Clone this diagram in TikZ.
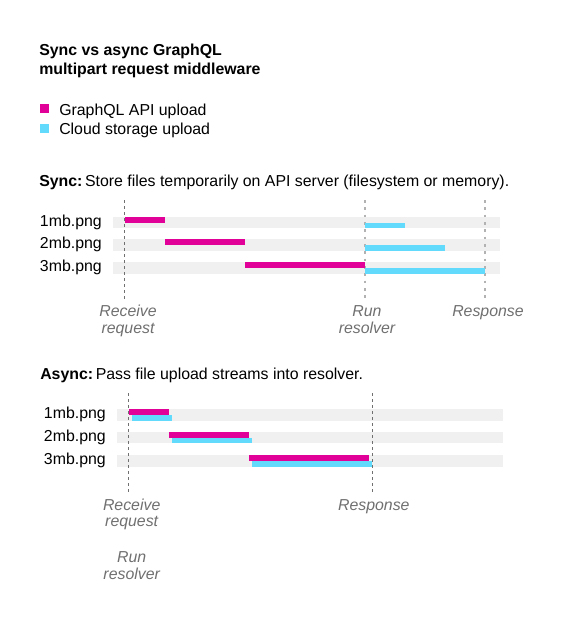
\documentclass[tikz,border=0pt]{standalone}
\usepackage{fontspec}
\setmainfont{Liberation Sans}
\definecolor{gqlpink}{HTML}{E10098}
\definecolor{cloudblue}{HTML}{61DAFB}
\definecolor{lanegray}{HTML}{F0F0F0}
\definecolor{evtgray}{HTML}{707070}

\begin{document}
\begin{tikzpicture}[x=0.75pt, y=-0.75pt,
    txt/.style={inner sep=0pt, font=\fontsize{11.9}{14}\selectfont},
    title/.style={txt, font=\fontsize{11.9}{14.2}\selectfont\bfseries, align=left, anchor=base west},
    head/.style={txt, anchor=base west},
    file/.style={txt, anchor=mid east},
    evt/.style={txt, font=\fontsize{11.9}{12.4}\selectfont\itshape, text=evtgray,
                align=center, anchor=base},
    lane/.style={fill=lanegray},
    api/.style={fill=gqlpink},
    cloud/.style={fill=cloudblue},
    cut/.style={draw=evtgray, line width=0.75pt, dash pattern=on 2pt off 2.5pt},
    cutlight/.style={draw=black!30, line width=1.5pt, dash pattern=on 2pt off 3.5pt}
]
\useasboundingbox[fill=white] (0,0) rectangle (565,640);

\node[title] (ttl) at (39,74) {Sync vs async GraphQL\\multipart request middleware};

\fill[api]   (40,104) rectangle (49,113);
\fill[cloud] (40,124) rectangle (49,133);
\node[head] (lgapi)   at (59,115) {GraphQL API upload};
\node[head] (lgcloud) at (59,134) {Cloud storage upload};

\node[head] (sync) at (39,186.7) {\textbf{Sync:}\,Store files temporarily on API server (filesystem or memory).};
\node[file] (s1) at (102,222.5) {1mb.png};
\node[file] (s2) at (102,245)   {2mb.png};
\node[file] (s3) at (102,268)   {3mb.png};
\fill[lane] (113,216.7) rectangle (500,228.3);
\fill[lane] (113,239.2) rectangle (500,250.8);
\fill[lane] (113,262.2) rectangle (500,273.8);
\draw[cut]      (124.5,200) -- (124.5,300);
\draw[cutlight] (364.5,200) -- (364.5,300);
\draw[cutlight] (484.5,200) -- (484.5,300);
\fill[api]   (125,216.7) rectangle (165,222.5);
\fill[api]   (165,239.2) rectangle (245,245);
\fill[api]   (245,262.2) rectangle (365,268);
\fill[cloud] (365,222.5) rectangle (405,228.3);
\fill[cloud] (365,245)   rectangle (445,250.8);
\fill[cloud] (365,268)   rectangle (485,273.8);
\node[evt] (srecv) at (128,333) {Receive\\request};
\node[evt] (srun)  at (367,333) {Run\\resolver};
\node[evt] (sresp) at (488,316.7) {Response};

\node[head] (async) at (40,379) {\textbf{Async:}\,Pass file upload streams into resolver.};
\node[file] (a1) at (106,415)   {1mb.png};
\node[file] (a2) at (106,437.5) {2mb.png};
\node[file] (a3) at (106,461)   {3mb.png};
\fill[lane] (117,409.3) rectangle (503,421);
\fill[lane] (117,431.7) rectangle (503,443.3);
\fill[lane] (117,455)   rectangle (503,466.7);
\draw[cut] (128.5,393) -- (128.5,492);
\draw[cut] (372.5,393) -- (372.5,492);
\fill[api]   (129,409.3) rectangle (169,415);
\fill[cloud] (132,415)   rectangle (172,421);
\fill[api]   (169,431.7) rectangle (249,437.5);
\fill[cloud] (172,437.5) rectangle (252,443.3);
\fill[api]   (249,455)   rectangle (369,461);
\fill[cloud] (252,461)   rectangle (372,466.7);
\node[evt] (arecv) at (131.7,526.7) {Receive\\request};
\node[evt] (aresp) at (373.8,510)   {Response};
\node[evt] (arun)  at (131.7,579)   {Run\\resolver};
\end{tikzpicture}
\end{document}
